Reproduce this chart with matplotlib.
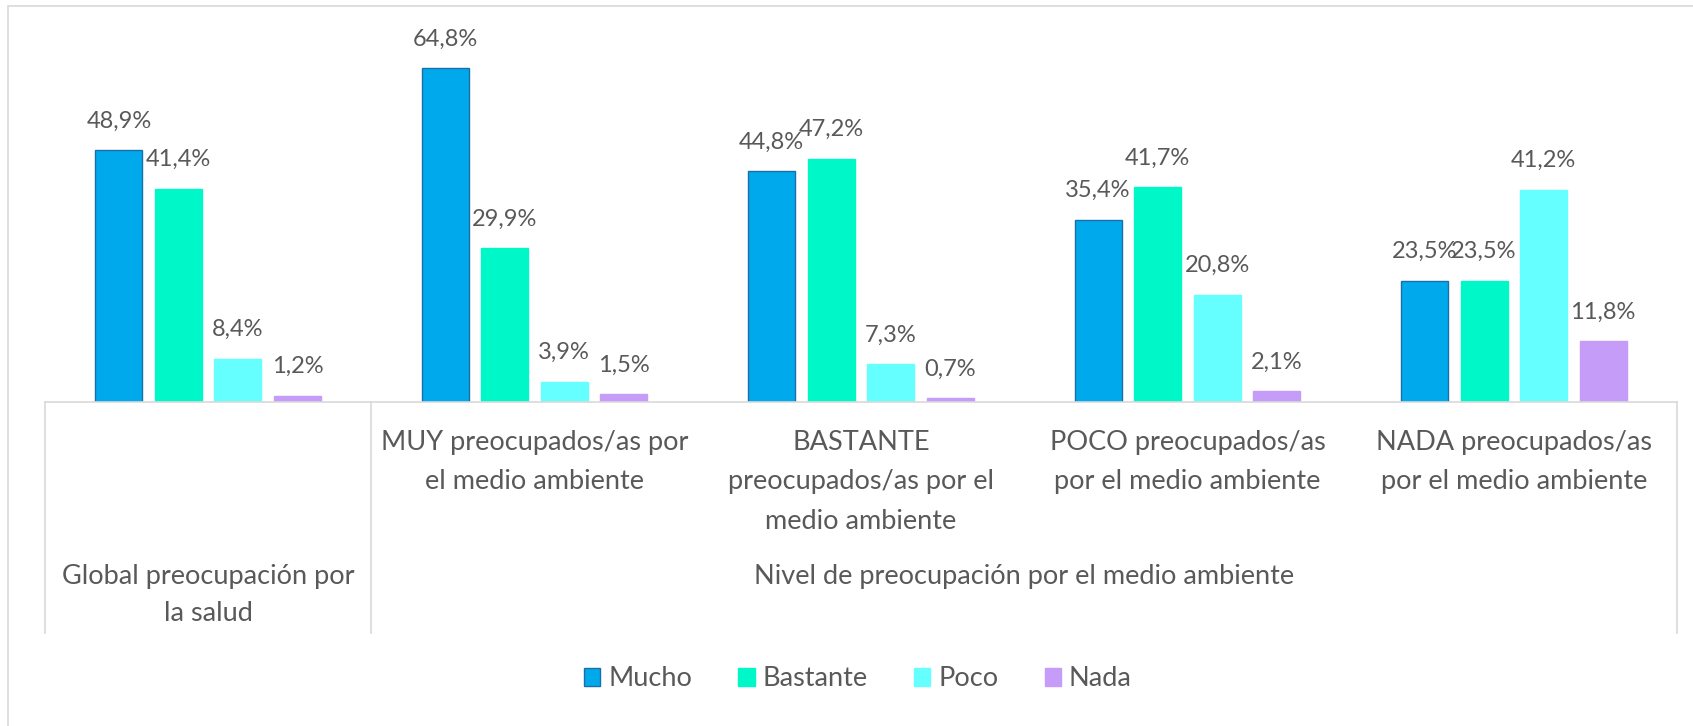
import matplotlib
matplotlib.use("Agg")
import matplotlib.pyplot as plt
from matplotlib.patches import Rectangle, Patch
import numpy as np

plt.rcParams['font.family'] = ['Lato', 'DejaVu Sans']

# data
categories = ["Global preocupación por\nla salud",
              "MUY preocupados/as por\nel medio ambiente",
              "BASTANTE\npreocupados/as por el\nmedio ambiente",
              "POCO preocupados/as\npor el medio ambiente",
              "NADA preocupados/as\npor el medio ambiente"]
group_label = "Nivel de preocupación por el medio ambiente"
series_names = ["Mucho", "Bastante", "Poco", "Nada"]
mucho = [48.9, 64.8, 44.8, 35.4, 23.5]
bastante = [41.4, 29.9, 47.2, 41.7, 23.5]
poco = [8.4, 3.9, 7.3, 20.8, 41.2]
nada = [1.2, 1.5, 0.7, 2.1, 11.8]

colors = ["#00A9EC", "#00F8C8", "#66FFFF", "#C59CF8"]
edges = ["#1A6FA8", "#00F8C8", "#66FFFF", "#C59CF8"]
txt = "#595959"
grid = "#D9D9D9"
lab_fs = 19.5

W, H = 1693, 726
fig = plt.figure(figsize=(W / 100, H / 100), dpi=100)

# outer chart border (only top/left visible in the crop)
fig.patches.append(Rectangle((8 / W, -0.5), 2, 1.5 - 6 / H, transform=fig.transFigure,
                             fill=False, edgecolor=grid, lw=1.2))

base_px, top_px = 402, 12
ax = fig.add_axes([45 / W, (H - base_px) / H, 1632 / W, (base_px - top_px) / H])
ax.set_xlim(0, 5)
ax.set_ylim(0, (base_px - top_px) / 5.15)


def yfrac(py):
    return (base_px - py) / (base_px - top_px)


x = np.arange(len(categories)) + 0.5
slot = 0.1823
width = 0.144
all_series = [mucho, bastante, poco, nada]
for i, vals in enumerate(all_series):
    xs = x + (i - 1.5) * slot
    ax.bar(xs, vals, width, color=colors[i], edgecolor=edges[i], linewidth=1.0,
           label=series_names[i])
    for xi, v in zip(xs, vals):
        ax.annotate(f"{v:.1f}%".replace(".", ","), (xi, v), xytext=(0, 21),
                    textcoords="offset points", ha="center", va="center",
                    fontsize=17, color=txt)

for s in ["top", "right", "left"]:
    ax.spines[s].set_visible(False)
ax.spines["bottom"].set_color(grid)
ax.spines["bottom"].set_linewidth(1.2)
ax.set_xticks([])
ax.set_yticks([])

# two-level category axis
trans = ax.get_xaxis_transform()
for xv in [0, 1, 5]:
    ax.plot([xv, xv], [0, yfrac(633)], color=grid, lw=1.2, transform=trans,
            clip_on=False)

for xi, lab in zip(x[1:], categories[1:]):
    ax.text(xi, yfrac(430), lab, transform=trans, ha="center", va="top",
            fontsize=lab_fs, color=txt, linespacing=1.72)
ax.text(x[0], yfrac(564), categories[0], transform=trans, ha="center", va="top",
        fontsize=lab_fs, color=txt, linespacing=1.6)
ax.text(3.0, yfrac(564), group_label, transform=trans, ha="center", va="top",
        fontsize=lab_fs, color=txt)

handles = [Patch(facecolor=colors[i], edgecolor=edges[i], label=series_names[i])
           for i in range(4)]
fig.legend(handles=handles, loc="center", bbox_to_anchor=(858 / W, 1 - 679 / H),
           ncol=4, frameon=False, fontsize=lab_fs, labelcolor=txt,
           handlelength=0.6, handleheight=0.6, handletextpad=0.3,
           columnspacing=1.7)

fig.savefig("out.png", dpi=100)
